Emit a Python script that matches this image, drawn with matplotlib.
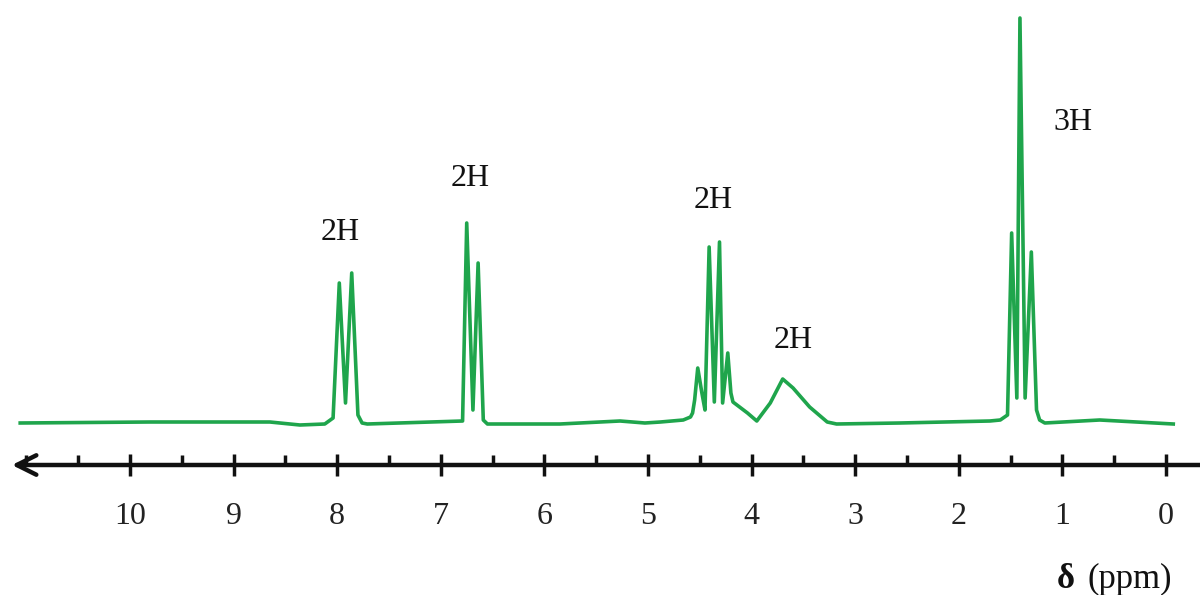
import matplotlib
matplotlib.use("Agg")
import matplotlib.pyplot as plt
from matplotlib.ticker import MultipleLocator

plt.rcParams['font.family'] = ['Liberation Serif', 'DejaVu Serif']

# Traced spectrum vertices: chemical shift (ppm) and intensity (arbitrary units)
ppm = [11.06, 9.81, 8.65, 8.36, 8.12, 8.04, 7.98, 7.92, 7.86, 7.80, 7.76, 7.71,
       6.79, 6.75, 6.69, 6.64, 6.59, 6.55, 5.85, 5.27, 5.03, 4.88, 4.66, 4.59,
       4.57, 4.55, 4.52, 4.48, 4.45, 4.41, 4.36, 4.31, 4.28, 4.23, 4.20, 4.18,
       4.04, 3.95, 3.82, 3.70, 3.60, 3.44, 3.27, 3.18, 2.57, 1.70, 1.60, 1.53,
       1.49, 1.44, 1.41, 1.36, 1.30, 1.25, 1.22, 1.17, 0.64, -0.07]
intensity = [0, 1, 1, -2, -1, 5, 140, 20, 150, 8, 0, -1,
             2, 200, 13, 160, 3, -1, -1, 2, 0, 1, 3, 6,
             10, 23, 55, 30, 13, 176, 21, 181, 20, 70, 30, 21,
             10, 2, 20, 44, 35, 16, 1, -1, 0, 2, 3, 8,
             190, 25, 405, 25, 171, 13, 3, 0, 3, -1]

# Integration labels
label_texts = ['2H', '2H', '2H', '2H', '3H']
label_ppm = [7.97, 6.72, 4.37, 3.60, 0.90]
label_int = [191, 245, 222, 82, 301]

major_ticks = [0, 1, 2, 3, 4, 5, 6, 7, 8, 9, 10]
axis_label_symbol = 'δ'
axis_label_unit = '(ppm)'

fig = plt.figure(figsize=(12, 5.95), dpi=100)
ax = fig.add_axes([0, 0, 1, 1])
ax.set_xlim(11.255, -0.328)
ax.set_ylim(-172, 423)

ax.plot(ppm, intensity, color='#1fa54c', lw=2.6, solid_joinstyle='round')

for t, xp, yp in zip(label_texts, label_ppm, label_int):
    ax.text(xp, yp, t, fontsize=23, ha='center', va='center', color='#111111')

# axis
axis_y = -42
for s in ['left', 'right', 'top']:
    ax.spines[s].set_visible(False)
ax.spines['bottom'].set_position(('data', axis_y))
ax.spines['bottom'].set_visible(False)
ax.yaxis.set_visible(False)
ax.set_xticks(major_ticks)
ax.set_xticklabels([str(t) for t in major_ticks])
ax.xaxis.set_minor_locator(MultipleLocator(0.5))
ax.tick_params(axis='x', which='major', direction='inout', length=16, width=2.5,
               labelsize=23, pad=19, color='#111111', labelcolor='#222222')
ax.tick_params(axis='x', which='minor', direction='in', length=7, width=2.5,
               color='#111111')
ax.annotate('', xy=(11.14, axis_y), xytext=(-0.33, axis_y),
            arrowprops=dict(arrowstyle='->', lw=3.2, color='#111111',
                            mutation_scale=35, shrinkA=0, shrinkB=0))

ax.text(0.88, -165, axis_label_symbol, fontsize=25, fontweight='bold',
        ha='right', va='baseline', color='#111111')
ax.text(-0.06, -165, axis_label_unit, fontsize=25, ha='right', va='baseline',
        color='#111111')

fig.savefig('out.png', dpi=100)
